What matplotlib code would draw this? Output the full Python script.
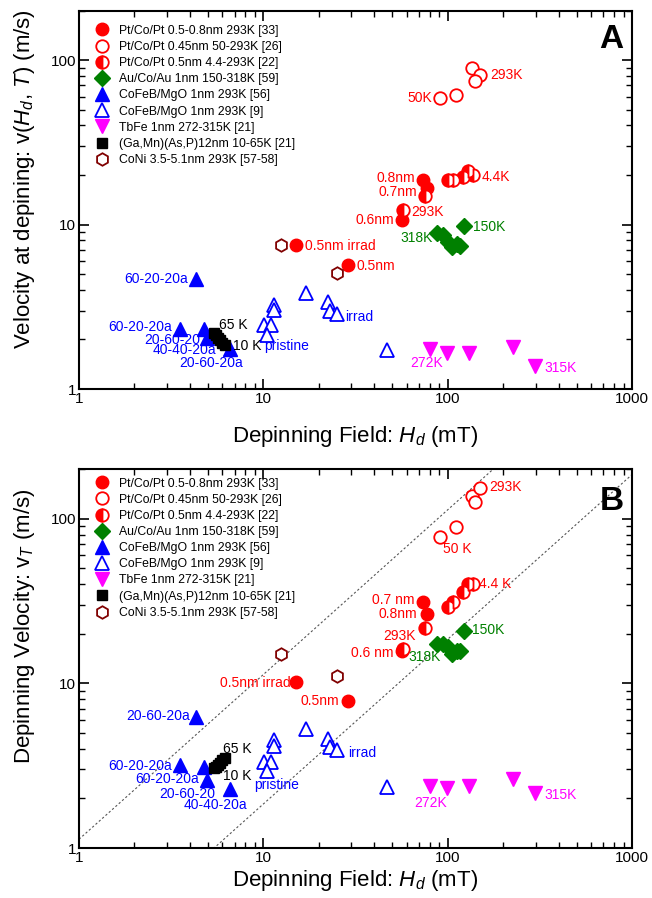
import numpy as np
import matplotlib
matplotlib.use('Agg')
import matplotlib.pyplot as plt

plt.rcParams['font.family'] = ['Liberation Sans', 'DejaVu Sans']
plt.rcParams['mathtext.fontset'] = 'custom'
plt.rcParams['mathtext.rm'] = 'Liberation Sans'
plt.rcParams['mathtext.it'] = 'Liberation Sans:italic'

# ---- data (Hd in mT, vA = velocity at depinning, vB = depinning velocity) ----
# Pt/Co/Pt 0.5-0.8nm 293K [33]
pt_f_H = [73.3, 77.1, 56.4, 15.0, 28.9]
pt_f_vA = [18.7, 16.6, 10.6, 7.46, 5.64]
pt_f_vB = [31.1, 26.2, 15.7, 10.2, 7.81]
# Pt/Co/Pt 0.45nm 50-293K [26]
pt_o_H = [135, 150, 141, 111, 91.3]
pt_o_vA = [89.8, 80.8, 74.6, 61.1, 58.6]
pt_o_vB = [138, 153, 126, 88.5, 77.8]
# Pt/Co/Pt 0.5nm 4.4-293K [22]
pt_h_H = [75.4, 57.5, 101, 107, 121, 129.5, 137]
pt_h_vA = [14.9, 12.2, 18.7, 18.7, 19.5, 21.2, 20.0]
pt_h_vB = [21.6, 16.1, 29.0, 31.1, 35.7, 39.8, 40.2]
# Au/Co/Au 1nm 150-318K [59]
au_H = [122.7, 87.3, 94.8, 101, 105, 112, 117]
au_vA = [9.77, 8.86, 8.58, 7.81, 7.28, 7.57, 7.36]
au_vB = [20.9, 17.4, 17.4, 16.6, 15.0, 15.8, 15.8]
# CoFeB/MgO 1nm 293K [56]
cfb_f_H = [4.31, 3.53, 4.77, 4.97, 6.6]
cfb_f_vA = [4.69, 2.33, 2.33, 2.03, 1.75]
cfb_f_vB = [6.25, 3.18, 3.11, 2.58, 2.27]
# CoFeB/MgO 1nm 293K [9]
cfb_o_H = [11.4, 11.4, 10.1, 11.0, 10.5, 17.1, 22.5, 23.0, 25.0, 46.7]
cfb_o_vA = [3.23, 3.01, 2.44, 2.44, 2.13, 3.83, 3.38, 2.98, 2.85, 1.72]
cfb_o_vB = [4.51, 4.17, 3.34, 3.34, 2.94, 5.31, 4.62, 4.08, 3.96, 2.35]
# TbFe 1nm 272-315K [21]
tbfe_H = [80.3, 99.6, 131, 227, 298]
tbfe_vA = [1.76, 1.66, 1.66, 1.79, 1.38]
tbfe_vB = [2.37, 2.30, 2.37, 2.64, 2.16]
# (Ga,Mn)(As,P) 12nm 10-65K [21]
gm_H = [5.4, 5.55, 5.7, 5.85, 6.0, 6.2]
gm_vA = [2.18, 2.12, 2.05, 1.98, 1.91, 1.85]
gm_vB = [3.05, 3.12, 3.20, 3.30, 3.40, 3.50]
# CoNi 3.5-5.1nm 293K [57-58]
coni_H = [12.4, 25.0]
coni_vA = [7.46, 5.07]
coni_vB = [15.0, 11.0]

labels = ['Pt/Co/Pt 0.5-0.8nm 293K [33]', 'Pt/Co/Pt 0.45nm 50-293K [26]',
          'Pt/Co/Pt 0.5nm 4.4-293K [22]', 'Au/Co/Au 1nm 150-318K [59]',
          'CoFeB/MgO 1nm 293K [56]', 'CoFeB/MgO 1nm 293K [9]',
          'TbFe 1nm 272-315K [21]', '(Ga,Mn)(As,P)12nm 10-65K [21]',
          'CoNi 3.5-5.1nm 293K [57-58]']

RED, GRN, BLU, MAG, DRD = '#ff0000', '#008000', '#0000ff', '#ff00ff', '#800000'

# annotations: (text, x, y, ha, color)
notes_A = [
    ('293K', 170, 80.8, 'left', RED), ('50K', 82, 58.6, 'right', RED),
    ('4.4K', 153, 19.5, 'left', RED), ('0.8nm', 66.5, 19.2, 'right', RED),
    ('0.7nm', 68, 15.7, 'right', RED), ('293K', 63.3, 11.9, 'left', RED),
    ('0.6nm', 51.4, 10.6, 'right', RED), ('150K', 138, 9.63, 'left', GRN),
    ('318K', 83, 8.26, 'right', GRN), ('0.5nm irrad', 16.8, 7.36, 'left', RED),
    ('0.5nm', 32.1, 5.56, 'left', RED), ('irrad', 27.7, 2.74, 'left', BLU),
    ('272K', 77.3, 1.43, 'center', MAG), ('315K', 334, 1.35, 'left', MAG),
    ('60-20-20a', 3.92, 4.69, 'right', BLU), ('60-20-20a', 3.21, 2.37, 'right', BLU),
    ('20-60-20', 4.53, 1.98, 'right', BLU), ('40-40-20a', 5.54, 1.72, 'right', BLU),
    ('20-60-20a', 7.79, 1.43, 'right', BLU), ('65 K', 5.77, 2.44, 'left', 'k'),
    ('10 K', 6.87, 1.82, 'left', 'k'), ('pristine', 10.1, 1.82, 'left', BLU),
]
notes_B = [
    ('293K', 168, 155, 'left', RED), ('50 K', 94.8, 65.5, 'left', RED),
    ('4.4 K', 148, 39.8, 'left', RED), ('0.7 nm', 66, 32.2, 'right', RED),
    ('0.8nm', 68.5, 26.2, 'right', RED), ('293K', 67.4, 19.5, 'right', RED),
    ('0.6 nm', 50.7, 15.3, 'right', RED), ('150K', 135, 21.2, 'left', GRN),
    ('318K', 61.2, 14.4, 'left', GRN), ('0.5nm', 25.9, 7.81, 'right', RED),
    ('0.5nm irrad', 14.0, 10.1, 'right', RED), ('20-60-20a', 4.0, 6.34, 'right', BLU),
    ('60-20-20a', 3.18, 3.14, 'right', BLU), ('60-20-20a', 4.5, 2.64, 'right', BLU),
    ('20-60-20', 5.47, 2.14, 'right', BLU), ('40-40-20a', 8.23, 1.82, 'right', BLU),
    ('65 K', 6.02, 3.98, 'left', 'k'), ('10 K', 6.06, 2.73, 'left', 'k'),
    ('pristine', 8.93, 2.41, 'left', BLU), ('irrad', 28.7, 3.78, 'left', BLU),
    ('272K', 81.1, 1.87, 'center', MAG), ('315K', 334, 2.1, 'left', MAG),
]

# guide lines in panel B: v = k * Hd
guide_k = [1.13, 0.185]


def draw_panel(ax, which):
    v = {'A': 0, 'B': 1}[which]
    pick = lambda a, b: a if v == 0 else b
    ax.plot(pt_f_H, pick(pt_f_vA, pt_f_vB), 'o', ms=9, color=RED, mec=RED, label=labels[0])
    ax.plot(pt_o_H, pick(pt_o_vA, pt_o_vB), 'o', ms=9, mfc='white', mec=RED, mew=1.3, label=labels[1])
    ax.plot(pt_h_H, pick(pt_h_vA, pt_h_vB), 'o', ms=9, mfc=RED, fillstyle='left',
            markerfacecoloralt='white', mec=RED, mew=1.3, label=labels[2])
    ax.plot(au_H, pick(au_vA, au_vB), 'D', ms=8, color=GRN, label=labels[3])
    ax.plot(cfb_f_H, pick(cfb_f_vA, cfb_f_vB), '^', ms=10, color=BLU, label=labels[4])
    ax.plot(cfb_o_H, pick(cfb_o_vA, cfb_o_vB), '^', ms=10, mfc='white', mec=BLU, mew=1.3, label=labels[5])
    ax.plot(tbfe_H, pick(tbfe_vA, tbfe_vB), 'v', ms=10, color=MAG, label=labels[6])
    ax.plot(gm_H, pick(gm_vA, gm_vB), 's', ms=7, color='k', label=labels[7])
    ax.plot(coni_H, pick(coni_vA, coni_vB), 'h', ms=9, mfc='white', mec=DRD, mew=1.3, label=labels[8])

    ax.set_xscale('log')
    ax.set_yscale('log')
    ax.set_xlim(1, 1000)
    ax.set_ylim(1, 200)
    ax.set_xticks([1, 10, 100, 1000])
    ax.set_xticklabels(['1', '10', '100', '1000'])
    ax.set_yticks([1, 10, 100])
    ax.set_yticklabels(['1', '10', '100'])
    ax.tick_params(which='both', direction='in', top=True, right=True, labelsize=11, pad=2)
    ax.tick_params(which='major', length=7, width=1.2)
    ax.tick_params(which='minor', length=4, width=1.0)
    for s in ax.spines.values():
        s.set_linewidth(1.5)

    notes = notes_A if which == 'A' else notes_B
    for t, x, y, ha, c in notes:
        ax.text(x, y, t, ha=ha, va='center', color=c, fontsize=10)

    ax.set_xlabel('Depinning Field: $H_d$ (mT)', fontsize=16)
    ax.text(0.985, pick(0.965, 0.955), which, transform=ax.transAxes, ha='right', va='top',
            fontsize=24, fontweight='bold')
    ax.legend(loc='upper left', bbox_to_anchor=(0.013, pick(0.985, 1.0)), frameon=False,
              fontsize=8.8, handlelength=1.2, handletextpad=0.8, labelspacing=0.34,
              borderaxespad=0.3, numpoints=1)


fig = plt.figure(figsize=(6.52, 8.98), dpi=100)
axA = fig.add_axes([79 / 652, 1 - 389 / 898, 553 / 652, 378.5 / 898])
axB = fig.add_axes([79 / 652, 1 - 848 / 898, 553 / 652, 379 / 898])

draw_panel(axA, 'A')
axA.set_ylabel('Velocity at depining: v($H_d$, $T$) (m/s)', fontsize=16)
axA.yaxis.set_label_coords(-0.076, 0.555)
axA.xaxis.set_label_coords(0.5, -0.0925)

hh = np.array([1.0, 1000.0])
for k in guide_k:
    axB.plot(hh, k * hh, ls=(0, (2, 2)), color='#555555', lw=0.8, zorder=0)
draw_panel(axB, 'B')
axB.set_ylabel('Depinning Velocity: v$_{\\mathit{T}}$ (m/s)', fontsize=16)
axB.yaxis.set_label_coords(-0.076, 0.585)
axB.xaxis.set_label_coords(0.5, -0.053)

fig.savefig('out.png', dpi=100)
